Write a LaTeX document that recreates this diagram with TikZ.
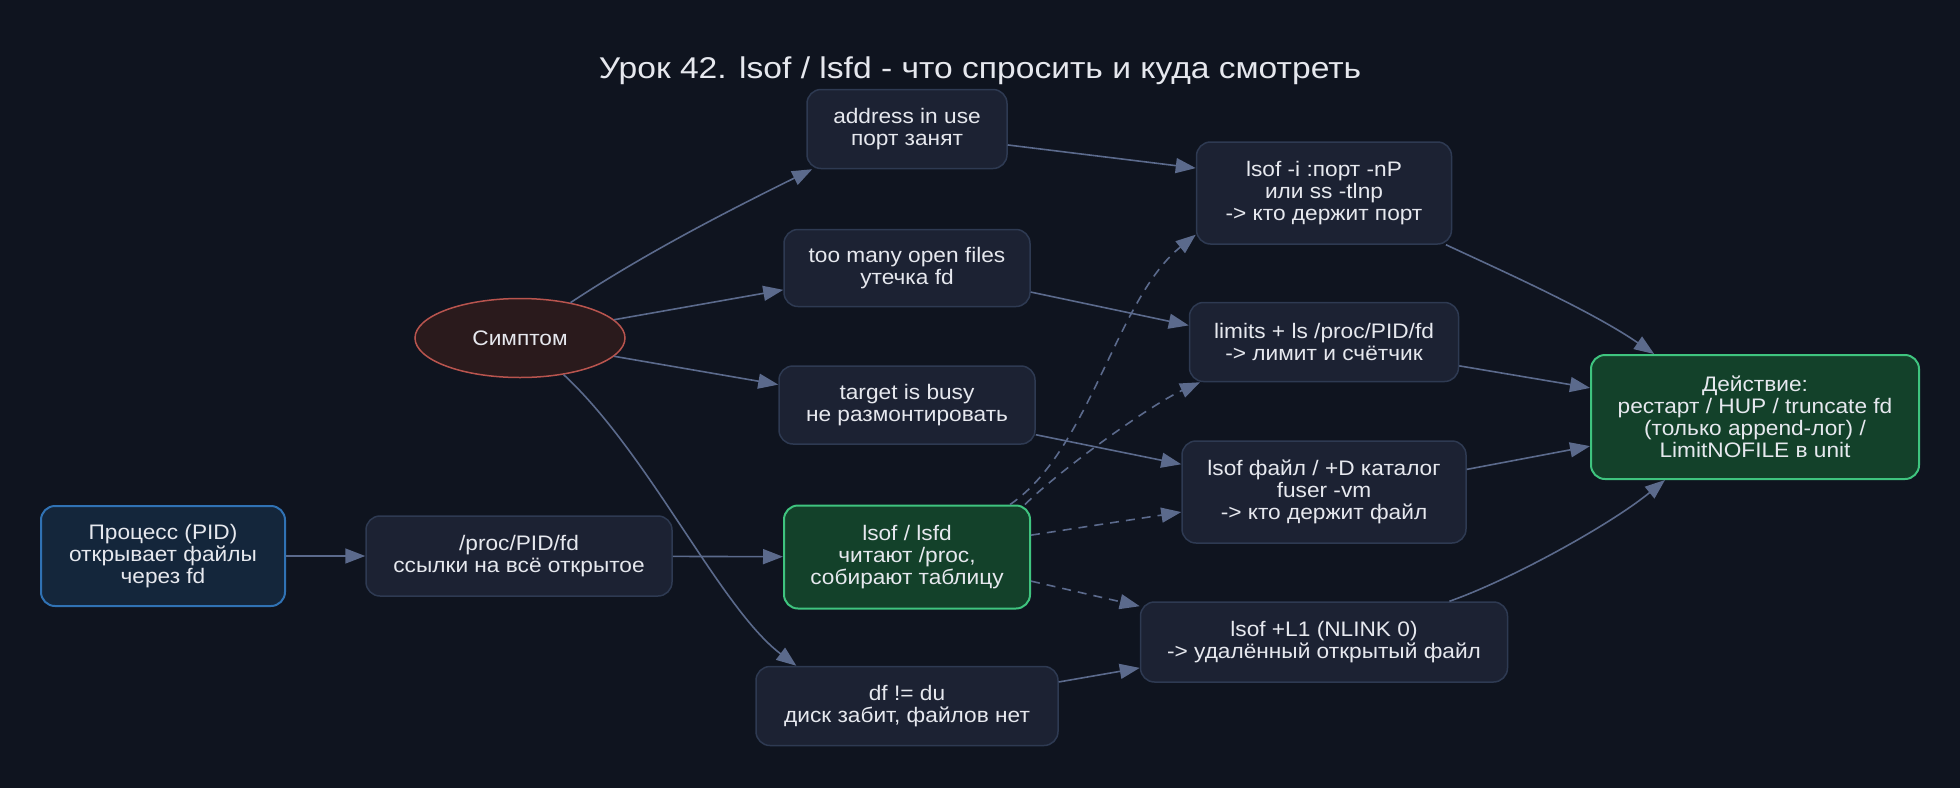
\documentclass[tikz,border=0pt]{standalone}
\usepackage{fontspec}
\setmainfont{Liberation Sans}[FakeStretch=1.08]
\newfontfamily\titlefont{Liberation Sans}[FakeStretch=1.12]
\usetikzlibrary{arrows.meta,shapes.geometric}
\definecolor{bg}{HTML}{0F141F}
\definecolor{nodefill}{HTML}{1C2233}
\definecolor{nodeborder}{HTML}{2E3A52}
\definecolor{txt}{HTML}{E6E8EE}
\definecolor{edgec}{HTML}{5B6A8C}
\definecolor{symfill}{HTML}{2A1A1C}
\definecolor{symborder}{HTML}{B8544E}
\definecolor{procfill}{HTML}{14263B}
\definecolor{procborder}{HTML}{3072B4}
\definecolor{grfill}{HTML}{13412A}
\definecolor{grborder}{HTML}{3FC47F}
\tikzset{
  box/.style={draw=nodeborder, fill=nodefill, rounded corners=7pt, line width=0.75pt,
    text=txt, align=center, font=\fontsize{10.5}{11}\selectfont, inner sep=0pt},
  symbox/.style={ellipse, draw=symborder, fill=symfill, line width=0.75pt, text=txt,
    font=\fontsize{10.5}{11}\selectfont, inner sep=0pt},
  procbox/.style={box, draw=procborder, fill=procfill, line width=1pt},
  greenbox/.style={box, draw=grborder, fill=grfill, line width=1pt},
  conn/.style={draw=edgec, line width=0.8pt, -{Triangle[length=10pt,width=7.5pt]}},
  dconn/.style={conn, dash pattern=on 4.5pt off 3.5pt},
}
\begin{document}
\begin{tikzpicture}[x=0.5pt,y=-0.5pt]
\useasboundingbox (0,0) rectangle (1960,788);
\fill[bg] (0,0) rectangle (1960,788);
\node[text=txt, font=\titlefont\fontsize{15}{17}\selectfont] (title) at (980,71) {Урок 42. lsof / lsfd - что спросить и куда смотреть};

\node[procbox, minimum width=122pt, minimum height=50pt] (proc) at (163,556) {Процесс (PID)\\открывает файлы\\через fd};
\node[box, minimum width=153pt, minimum height=40pt] (procfd) at (519,556) {/proc/PID/fd\\ссылки на всё открытое};
\node[symbox, minimum width=105pt, minimum height=39.5pt] (sym) at (520,338) {Симптом};
\node[box, minimum width=100pt, minimum height=39.5pt] (addr) at (907,129) {address in use\\порт занят};
\node[box, minimum width=123pt, minimum height=38.5pt] (many) at (907,268) {too many open files\\утечка fd};
\node[box, minimum width=128pt, minimum height=39pt] (busy) at (907,405) {target is busy\\не размонтировать};
\node[greenbox, minimum width=123pt, minimum height=51.5pt] (lsofs) at (907,557) {lsof / lsfd\\читают /proc,\\собирают таблицу};
\node[box, minimum width=151pt, minimum height=39.5pt] (df) at (907,706) {df != du\\диск забит, файлов нет};
\node[box, minimum width=127.5pt, minimum height=51pt] (lsofi) at (1324,193) {lsof -i :порт -nP\\или ss -tlnp\\-> кто держит порт};
\node[box, minimum width=134.5pt, minimum height=39.5pt] (limits) at (1324,342) {limits + ls /proc/PID/fd\\-> лимит и счётчик};
\node[box, minimum width=142pt, minimum height=51pt] (lfile) at (1324,492) {lsof файл / +D каталог\\fuser -vm\\-> кто держит файл};
\node[box, minimum width=183.5pt, minimum height=40pt] (lone) at (1324,642) {lsof +L1 (NLINK 0)\\-> удалённый открытый файл};
\node[greenbox, minimum width=164pt, minimum height=62pt] (act) at (1755,417) {Действие:\\рестарт / HUP / truncate fd\\(только append-лог) /\\LimitNOFILE в unit};

\draw[conn] (proc) -- (procfd);
\draw[conn] (procfd) -- (lsofs);
\draw[conn] (sym.35) .. controls (650,250) and (740,205) .. (addr.203);
\draw[conn] (sym.11) -- (many.190);
\draw[conn] (sym.349) -- (busy.171);
\draw[conn] (sym.320) .. controls (650,455) and (720,608) .. (df.160);
\draw[conn] (addr.351) -- (lsofi.169);
\draw[conn] (many.349) -- (limits.173);
\draw[conn] (busy.347) -- (lfile.169);
\draw[conn] (df.9) -- (lone.188);
\draw[dconn] (lsofs.27) .. controls (1090,450) and (1116,299) .. (lsofi.198);
\draw[dconn] (lsofs.24) .. controls (1060,470) and (1150,405) .. (limits.198);
\draw[dconn] (lsofs.10) -- (lfile.188);
\draw[dconn] (lsofs.349) -- (lone.169);
\draw[conn] (lsofi.337) .. controls (1500,270) and (1590,310) .. (act.148);
\draw[conn] (limits.350) -- (act.170);
\draw[conn] (lfile.9) -- (act.190);
\draw[conn] (lone.18) .. controls (1510,580) and (1610,525) .. (act.215);
\end{tikzpicture}
\end{document}
